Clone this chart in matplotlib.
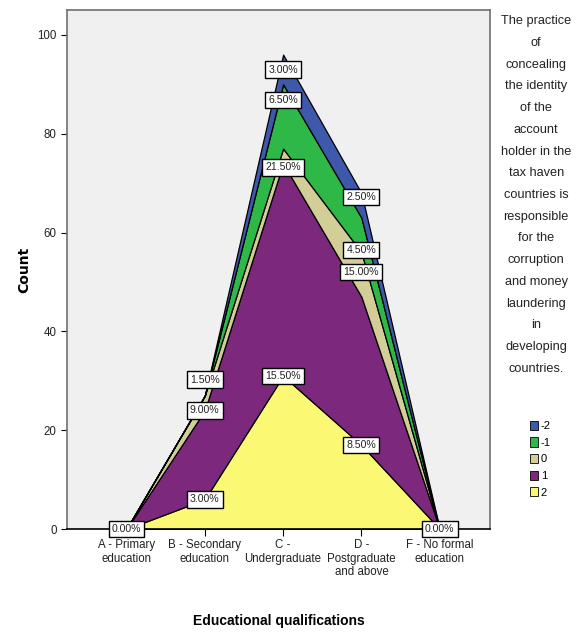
import matplotlib.pyplot as plt
import numpy as np

plt.rcParams['font.family'] = ['Liberation Sans Narrow', 'Liberation Sans', 'DejaVu Sans']

# respondents in total (percent labels are of all 200)
N = 200

categories = ["A - Primary\neducation", "B - Secondary\neducation", "C -\nUndergraduate",
              "D -\nPostgraduate\nand above", "F - No formal\neducation"]

# percent of respondents per answer, one list per answer code
pct_2 = [0.0, 3.0, 15.5, 8.5, 0.0]
pct_1 = [0.0, 9.0, 21.5, 15.0, 0.0]
pct_0 = [0.0, 1.5, 1.5, 4.5, 0.0]
pct_m1 = [0.0, 0.0, 6.5, 3.5, 0.0]
pct_m2 = [0.0, 0.0, 3.0, 2.5, 0.0]

answers = ["2", "1", "0", "-1", "-2"]
colors = ["#fbf873", "#7c287d", "#d3ce97", "#2eb848", "#3e58ac"]

legend_title = ("The practice\nof\nconcealing\nthe identity\nof the\naccount\nholder in the\n"
                "tax haven\ncountries is\nresponsible\nfor the\ncorruption\nand money\n"
                "laundering\nin\ndeveloping\ncountries.")

series = [pct_2, pct_1, pct_0, pct_m1, pct_m2]
counts = np.array(series) * N / 100.0
tops = np.cumsum(counts, axis=0)
x = np.arange(len(categories))

fig = plt.figure(figsize=(5.79, 6.36), dpi=100)
ax = fig.add_axes([0.1157, 0.1682, 0.7303, 0.8158])
ax.set_facecolor("#f0f0f0")

ax.stackplot(x, counts, colors=colors, edgecolor="black", linewidth=0.9)

ax.set_xlim(-0.76, 4.64)
ax.set_ylim(0, 105)
ax.set_yticks([0, 20, 40, 60, 80, 100])
ax.set_xticks(x)
ax.set_xticklabels(categories, fontsize=8.3, linespacing=1.2, color="#222222")
ax.tick_params(axis="y", labelsize=8.3, length=4, width=0.8, labelcolor="#222222")
ax.tick_params(axis="x", length=5, width=0.8, pad=2)

for side in ["top", "right", "left"]:
    ax.spines[side].set_color("#707070")
    ax.spines[side].set_linewidth(1.2)
ax.spines["bottom"].set_color("black")
ax.spines["bottom"].set_linewidth(1.2)

ax.set_ylabel("Count", fontsize=10, fontweight="bold", family="DejaVu Sans", labelpad=4)
ax.set_xlabel("Educational qualifications", fontsize=10, fontweight="bold", labelpad=26)

# value labels: (series index, category index, vertical nudge in pixels)
shown = [(0, 0, 0), (0, 1, 0), (1, 1, 0), (2, 1, 16),
         (0, 2, 0), (1, 2, -4), (3, 2, -16), (4, 2, -15),
         (0, 3, 0), (1, 3, 25), (2, 3, 2), (4, 3, -4),
         (0, 4, 0)]
box = dict(boxstyle="square,pad=0.3", facecolor="white", edgecolor="black", linewidth=1.0)
for s, c, dy in shown:
    ax.annotate(f"{series[s][c]:.2f}%", (x[c], tops[s][c]), xytext=(0, dy),
                textcoords="offset pixels", ha="center", va="center",
                fontsize=7.6, color="#222222", bbox=box, annotation_clip=False, zorder=5)

# legend panel on the right
fig.text(0.926, 0.976, legend_title, ha="center", va="top", fontsize=9.2,
         linespacing=2.08, color="#222222")
handles = [plt.Rectangle((0, 0), 1, 1, facecolor=col, edgecolor="black", linewidth=0.6)
           for col in colors[::-1]]
fig.legend(handles, answers[::-1], loc="upper left", bbox_to_anchor=(0.905, 0.347),
           frameon=False, fontsize=8, handlelength=0.8, handleheight=0.9,
           handletextpad=0.2, labelspacing=0.55, borderpad=0)

fig.savefig("out.png", dpi=100)
